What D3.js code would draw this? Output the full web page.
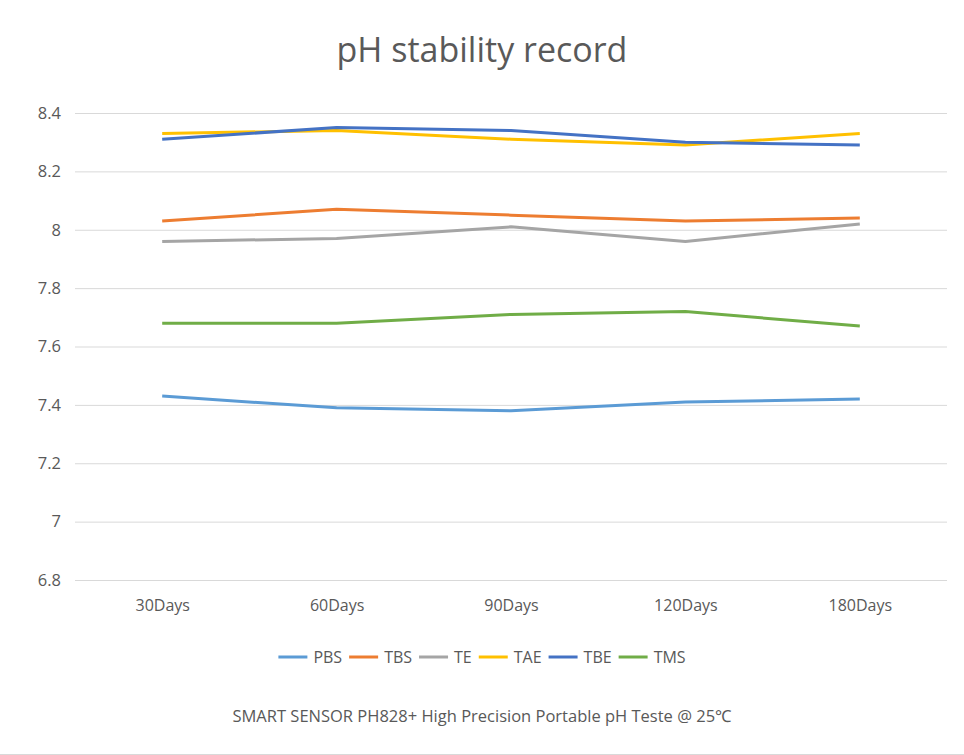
<!DOCTYPE html>
<html>
<head>
<meta charset="utf-8">
<script src="https://cdn.jsdelivr.net/npm/d3@7"></script>
<style>
  body { margin: 0; background: #fff; }
  svg { display: block; }
  svg text { font-family: "Open Sans", "Noto Sans", sans-serif; }
</style>
</head>
<body>
<div id="chart"></div>
<script>
  const categories = ["30Days", "60Days", "90Days", "120Days", "180Days"];
  const seriesNames = ["PBS", "TBS", "TE", "TAE", "TBE", "TMS"];
  const seriesColors = ["#5B9BD5", "#ED7D31", "#A5A5A5", "#FFC000", "#4472C4", "#70AD47"];
  const valuesPBS = [7.43, 7.39, 7.38, 7.41, 7.42];
  const valuesTBS = [8.03, 8.07, 8.05, 8.03, 8.04];
  const valuesTE = [7.96, 7.97, 8.01, 7.96, 8.02];
  const valuesTAE = [8.33, 8.34, 8.31, 8.29, 8.33];
  const valuesTBE = [8.31, 8.35, 8.34, 8.30, 8.29];
  const valuesTMS = [7.68, 7.68, 7.71, 7.72, 7.67];
  const yTicks = [6.8, 7, 7.2, 7.4, 7.6, 7.8, 8, 8.2, 8.4];
  const titleText = "pH stability record";
  const footerText = "SMART SENSOR PH828+ High Precision Portable pH Teste @ 25\u2103";

  const seriesValues = [valuesPBS, valuesTBS, valuesTE, valuesTAE, valuesTBE, valuesTMS];
  const series = seriesNames.map((name, i) => ({
    name,
    color: seriesColors[i],
    values: seriesValues[i],
  }));

  const width = 964;
  const height = 755;
  const plot = { left: 75, right: 947, top: 113, bottom: 580 };
  const textColor = "#595959";

  const svg = d3.select("#chart")
    .append("svg")
    .attr("width", width)
    .attr("height", height);

  const x = d3.scalePoint()
    .domain(categories)
    .range([plot.left, plot.right])
    .padding(0.5);

  const y = d3.scaleLinear()
    .domain([6.8, 8.4])
    .range([plot.bottom, plot.top]);

  // title
  svg.append("text")
    .attr("x", width / 2)
    .attr("y", 62)
    .attr("text-anchor", "middle")
    .attr("fill", textColor)
    .attr("font-size", "34px")
    .text(titleText);

  // gridlines + y labels
  const yAxis = svg.append("g")
    .attr("transform", `translate(${plot.left},0)`)
    .call(d3.axisLeft(y)
      .tickValues(yTicks)
      .tickSize(-(plot.right - plot.left))
      .tickPadding(14)
      .tickFormat(d3.format("~g")));
  yAxis.attr("font-family", null);
  yAxis.select(".domain").remove();
  yAxis.selectAll(".tick line").attr("stroke", "#d9d9d9");
  yAxis.selectAll(".tick text")
    .attr("fill", textColor)
    .attr("font-size", "16.5px");

  // x labels
  const xAxis = svg.append("g")
    .attr("transform", `translate(0,${plot.bottom})`)
    .call(d3.axisBottom(x).tickSize(0).tickPadding(20));
  xAxis.attr("font-family", null);
  xAxis.select(".domain").remove();
  xAxis.selectAll(".tick text")
    .attr("fill", textColor)
    .attr("font-size", "16px");

  // lines
  const line = d3.line()
    .x((d, i) => x(categories[i]))
    .y((d) => y(d));

  svg.append("g")
    .selectAll("path")
    .data(series)
    .join("path")
    .attr("fill", "none")
    .attr("stroke", (d) => d.color)
    .attr("stroke-width", 3)
    .attr("stroke-linejoin", "round")
    .attr("d", (d) => line(d.values));

  // legend
  const legend = svg.append("g");
  let cursor = 0;
  series.forEach((s) => {
    const item = legend.append("g").attr("transform", `translate(${cursor},0)`);
    item.append("line")
      .attr("x1", 0).attr("x2", 29)
      .attr("y1", 0).attr("y2", 0)
      .attr("stroke", s.color)
      .attr("stroke-width", 3);
    const label = item.append("text")
      .attr("x", 35)
      .attr("dy", "0.35em")
      .attr("fill", textColor)
      .attr("font-size", "16px")
      .text(s.name);
    cursor += 35 + label.node().getComputedTextLength() + 7;
  });
  legend.attr("transform", `translate(${(width - (cursor - 7)) / 2},657)`);

  // footer
  svg.append("text")
    .attr("x", width / 2)
    .attr("y", 722)
    .attr("text-anchor", "middle")
    .attr("fill", textColor)
    .attr("font-size", "16.5px")
    .text(footerText);

  // bottom border
  svg.append("line")
    .attr("x1", 0).attr("x2", width)
    .attr("y1", 754.5).attr("y2", 754.5)
    .attr("stroke", "#d9d9d9");
</script>
</body>
</html>
